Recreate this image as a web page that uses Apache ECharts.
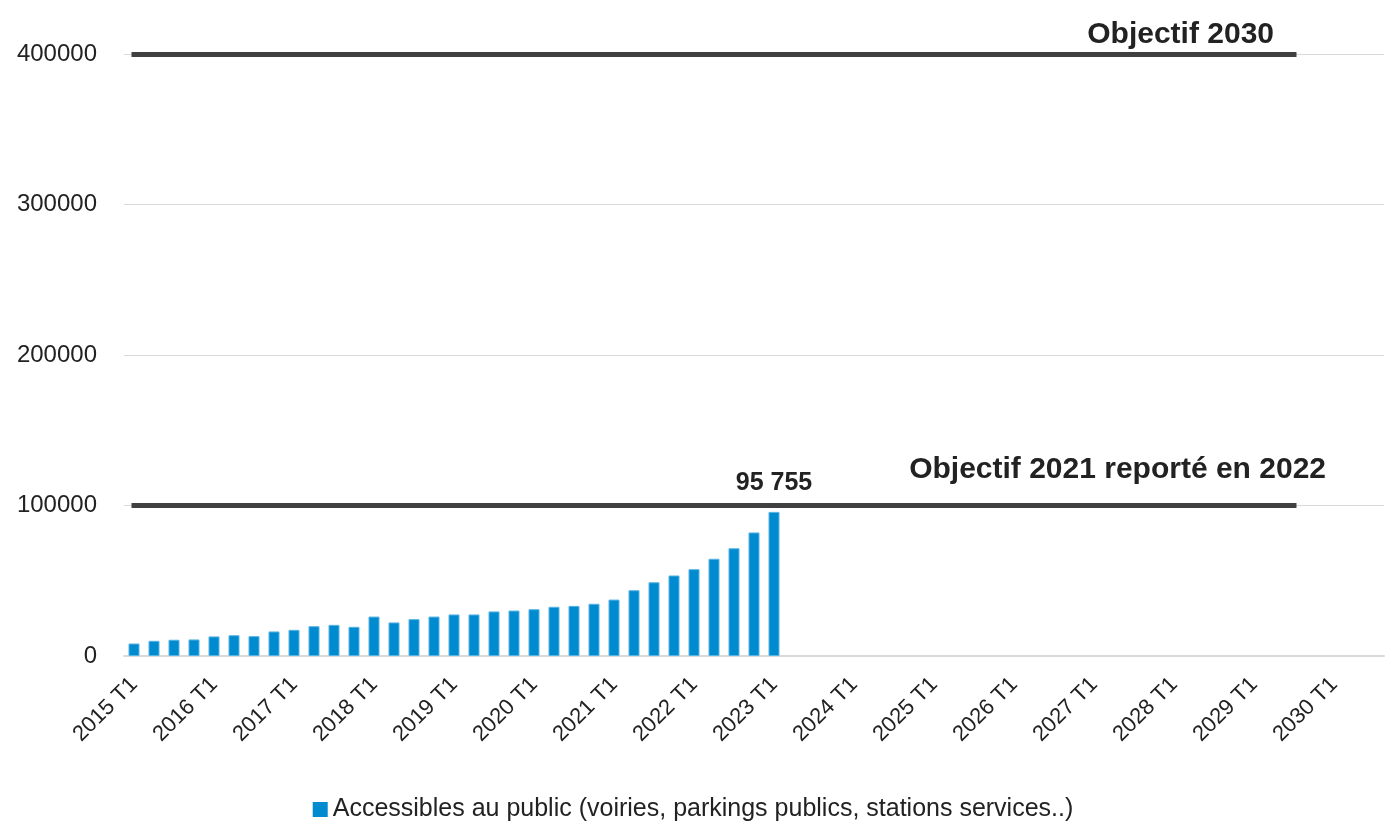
<!DOCTYPE html>
<html>
<head>
<meta charset="utf-8">
<script src="https://cdn.jsdelivr.net/npm/echarts@6/dist/echarts.min.js"></script>
<style>
  html, body { margin: 0; padding: 0; background: #fff; }
  #main { width: 1386px; height: 828px; }
</style>
</head>
<body>
<div id="main"></div>
<script>
// trimestres 2015 T1 -> 2030 T3
var years = [2015, 2016, 2017, 2018, 2019, 2020, 2021, 2022, 2023, 2024, 2025, 2026, 2027, 2028, 2029, 2030];
var quarters = ['T1', 'T2', 'T3', 'T4'];
var categories = [];
years.forEach(function (y) {
  quarters.forEach(function (q) {
    if (y === 2030 && q === 'T4') return;
    categories.push(y + ' ' + q);
  });
});

// points de recharge accessibles au public
var pointsPublics = [
  8300, 10100, 10800, 11000, 13000, 13800, 13200, 16300,
  17400, 19800, 20700, 19400, 26200, 22300, 24500, 26200,
  27600, 27600, 29600, 30200, 31100, 32700, 33300, 34700,
  37500, 43700, 49000, 53500, 57700, 64600, 71600, 82100,
  95755
];

var objectif2022 = 100000;
var objectif2030 = 400000;
var objectifFin = '2029 T3';

var yTicks = [0, 100000, 200000, 300000, 400000];

var font = '"Liberation Sans Narrow", "Arial Narrow", "Liberation Sans", Arial, sans-serif';

var chart = echarts.init(document.getElementById('main'));

var barData = pointsPublics.map(function (v, i) {
  if (i === pointsPublics.length - 1) {
    return {
      value: v,
      label: {
        show: true,
        position: 'top',
        distance: 16,
        fontFamily: font,
        fontWeight: 'bold',
        fontSize: 25,
        color: '#222',
        formatter: function (p) {
          return String(p.value).replace(/\B(?=(\d{3})+(?!\d))/g, ' ');
        }
      }
    };
  }
  return v;
});

var option = {
  animation: false,
  grid: { left: 124, right: 2, top: 54, bottom: 172, containLabel: false, outerBoundsMode: 'none' },
  legend: {
    bottom: 1,
    left: 'center',
    itemWidth: 15,
    itemHeight: 15,
    itemGap: 8,
    icon: 'rect',
    itemStyle: { borderWidth: 0 },
    textStyle: { fontFamily: font, fontSize: 25, color: '#222' },
    data: ['Accessibles au public (voiries, parkings publics, stations services..)']
  },
  xAxis: {
    type: 'category',
    data: categories,
    boundaryGap: true,
    axisLine: { lineStyle: { color: '#d9d9d9', width: 2 } },
    axisTick: { show: false },
    axisLabel: {
      interval: 3,
      rotate: 45,
      margin: 25,
      fontFamily: font,
      fontSize: 22,
      color: '#222'
    }
  },
  yAxis: {
    type: 'value',
    min: yTicks[0],
    max: yTicks[yTicks.length - 1],
    interval: 100000,
    axisLine: { show: false },
    axisTick: { show: false },
    splitLine: { lineStyle: { color: '#d9d9d9', width: 1 } },
    axisLabel: {
      margin: 27,
      fontFamily: font,
      fontSize: 24,
      color: '#222',
      formatter: function (v) { return String(v); }
    }
  },
  series: [
    {
      name: 'Accessibles au public (voiries, parkings publics, stations services..)',
      type: 'bar',
      data: barData,
      barWidth: 11,
      itemStyle: { color: '#008bd0', borderColor: '#59b3e3', borderWidth: 1 },
      markLine: {
        silent: true,
        symbol: 'none',
        lineStyle: { color: '#404040', width: 5, type: 'solid', cap: 'square' },
        data: [
          [
            {
              coord: [categories[0], objectif2030],
              label: {
                show: true,
                position: 'insideEndTop',
                distance: [20, 4],
                formatter: 'Objectif 2030',
                fontFamily: font,
                fontWeight: 'bold',
                fontSize: 30,
                color: '#222'
              }
            },
            { coord: [objectifFin, objectif2030] }
          ],
          [
            {
              coord: [categories[0], objectif2022],
              label: {
                show: true,
                position: 'insideEndTop',
                distance: [-32, 21],
                formatter: 'Objectif 2021 reporté en 2022',
                fontFamily: font,
                fontWeight: 'bold',
                fontSize: 30,
                color: '#222'
              }
            },
            { coord: [objectifFin, objectif2022] }
          ]
        ]
      }
    }
  ]
};

chart.setOption(option);
</script>
</body>
</html>
